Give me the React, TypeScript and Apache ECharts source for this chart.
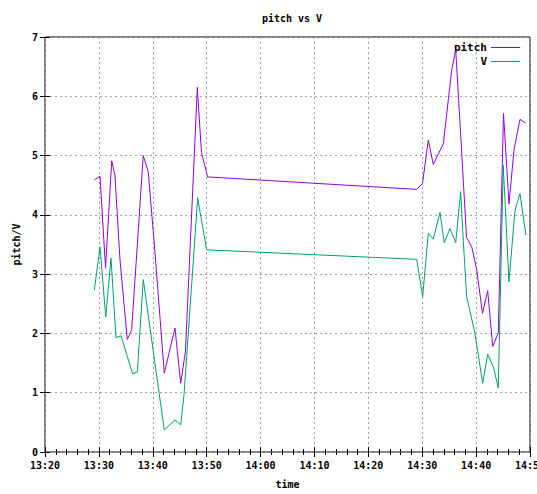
import React, { useEffect, useRef } from "react";
import * as echarts from "echarts";

const pitchTimes = [
  "13:29:09", "13:30:13", "13:31:14", "13:32:23", "13:32:59", "13:33:55", "13:35:16", "13:36:05",
  "13:38:14", "13:39:10", "13:40:25", "13:42:08", "13:44:07", "13:45:11", "13:46:04", "13:48:16",
  "13:49:02", "13:50:11", "14:28:58", "14:30:03", "14:31:08", "14:32:03", "14:33:55", "14:35:28",
  "14:36:13", "14:37:01", "14:37:37", "14:38:13", "14:39:11", "14:40:07", "14:41:11", "14:42:09",
  "14:43:05", "14:44:07", "14:45:05", "14:46:06", "14:47:02", "14:48:08", "14:49:12",
];
const pitchValues = [
  4.59, 4.65, 3.1, 4.91, 4.66, 3.24, 1.9, 2.06,
  5.0, 4.72, 3.36, 1.33, 2.09, 1.16, 1.7, 6.15,
  5.05, 4.64, 4.43, 4.53, 5.26, 4.85, 5.2, 6.44,
  6.78, 5.54, 4.59, 3.62, 3.46, 3.07, 2.34, 2.72,
  1.78, 2.01, 5.71, 4.18, 5.1, 5.61, 5.55,
];

const vTimes = [
  "13:29:09", "13:30:13", "13:31:16", "13:32:15", "13:33:10", "13:34:06", "13:36:16", "13:37:08",
  "13:38:14", "13:42:08", "13:44:07", "13:45:11", "13:45:47", "13:48:20", "13:48:46", "13:50:00",
  "14:28:58", "14:30:05", "14:31:08", "14:32:03", "14:33:18", "14:34:05", "14:35:09", "14:36:13",
  "14:37:08", "14:37:37", "14:38:15", "14:39:47", "14:41:13", "14:42:09", "14:43:11", "14:44:07",
  "14:45:02", "14:46:06", "14:47:13", "14:48:08", "14:49:15",
];
const vValues = [
  2.73, 3.46, 2.28, 3.27, 1.93, 1.96, 1.32, 1.35,
  2.91, 0.37, 0.54, 0.46, 0.95, 4.29, 4.05, 3.41,
  3.25, 2.62, 3.69, 3.59, 4.04, 3.53, 3.77, 3.53,
  4.39, 3.57, 2.62, 2.0, 1.16, 1.65, 1.44, 1.08,
  4.84, 2.87, 4.08, 4.36, 3.66,
];

const seriesNames = ["pitch", "V"];
const seriesColors = ["#9400d3", "#009e73"];

const START_H = 13;
const START_M = 20;
const X_MIN = 0;
const X_MAX = 90;
const X_STEP = 10;

function toMin(s: string): number {
  const [h, m, sec] = s.split(":").map(Number);
  return (h - START_H) * 60 + (m - START_M) + sec / 60;
}

function fmtTime(v: number): string {
  const total = START_H * 60 + START_M + Math.round(v);
  const h = Math.floor(total / 60);
  const m = total % 60;
  return `${String(h).padStart(2, "0")}:${String(m).padStart(2, "0")}`;
}

const FONT = "DejaVu Sans Mono";

export default function App() {
  const ref = useRef<HTMLDivElement>(null);
  useEffect(() => {
    if (!ref.current) return;
    const chart = echarts.init(ref.current, undefined, { renderer: "svg" });
    const txt = { fontFamily: FONT, fontWeight: "bold" as const, fontSize: 10, color: "#000" };
    const grid = {
      left: 45, right: 7, top: 37, bottom: 42,
      show: true, borderColor: "#000", borderWidth: 1, backgroundColor: "transparent",
      containLabel: false, outerBoundsMode: "none",
    };
    const splitLine = { show: true, lineStyle: { color: "#a0a0a0", type: [2, 3] as number[], width: 1 } };
    const tick = { show: true, inside: true, length: 5, lineStyle: { color: "#000" } };
    const minor = { show: true, splitNumber: 5, length: 3, lineStyle: { color: "#000" } };
    const legendGraphics: any[] = [];
    seriesNames.forEach((n, i) => {
      const y = 47.5 + i * 14;
      legendGraphics.push({
        type: "text",
        x: 487,
        y,
        style: { text: n, fill: "#000", font: `bold 11px "${FONT}"`, align: "right", verticalAlign: "middle" },
      });
      legendGraphics.push({
        type: "line",
        shape: { x1: 491, y1: y, x2: 520, y2: y },
        style: { stroke: seriesColors[i], lineWidth: 1 },
      });
    });
    chart.setOption({
      animation: false,
      backgroundColor: "#fff",
      title: {
        text: "pitch vs V",
        left: 287,
        top: 8,
        textAlign: "center",
        textStyle: { ...txt },
      },
      graphic: legendGraphics,
      grid,
      xAxis: [
        {
          type: "value",
          min: X_MIN,
          max: X_MAX,
          interval: X_STEP,
          name: "time",
          nameLocation: "middle",
          nameGap: 27,
          nameTextStyle: { ...txt },
          axisLine: { show: false },
          axisTick: tick,
          minorTick: minor,
          axisLabel: { ...txt, margin: 8, formatter: (v: number) => fmtTime(v) },
          splitLine,
        },
        {
          type: "value",
          position: "top",
          min: X_MIN,
          max: X_MAX,
          interval: X_STEP,
          axisLine: { show: false },
          axisTick: tick,
          minorTick: minor,
          axisLabel: { show: false },
          splitLine: { show: false },
        },
      ],
      yAxis: [
        {
          type: "value",
          min: 0,
          max: 7,
          interval: 1,
          name: "pitch/V",
          nameLocation: "middle",
          nameGap: 24,
          nameTextStyle: { ...txt },
          axisLine: { show: false },
          axisTick: tick,
          axisLabel: { ...txt, margin: 7 },
          splitLine,
        },
        {
          type: "value",
          position: "right",
          min: 0,
          max: 7,
          interval: 1,
          axisLine: { show: false },
          axisTick: tick,
          axisLabel: { show: false },
          splitLine: { show: false },
        },
      ],
      series: seriesNames.map((n, i) => ({
        name: n,
        type: "line",
        xAxisIndex: 0,
        yAxisIndex: 0,
        showSymbol: false,
        symbol: "none",
        color: seriesColors[i],
        lineStyle: { width: 1, color: seriesColors[i] },
        data:
          i === 0
            ? pitchTimes.map((t, k) => [toMin(t), pitchValues[k]])
            : vTimes.map((t, k) => [toMin(t), vValues[k]]),
      })),
    });
    return () => chart.dispose();
  }, []);
  return (
    <div
      ref={ref}
      style={{ position: "fixed", left: 0, top: 0, width: 537, height: 494, background: "#fff" }}
    />
  );
}
